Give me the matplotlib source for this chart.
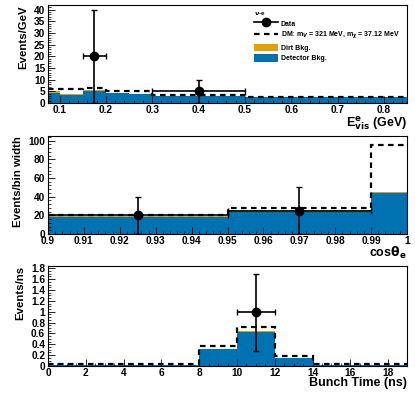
import numpy as np
import matplotlib
matplotlib.use("Agg")
import matplotlib.pyplot as plt
from matplotlib.ticker import MultipleLocator, FuncFormatter
from matplotlib.lines import Line2D
from matplotlib.patches import Patch

# ---- data ----
# visible energy panel
e_edges = [0.075, 0.1, 0.15, 0.2, 0.25, 0.3, 0.5, 0.85]
e_det = [4.4, 3.5, 5.2, 4.3, 3.7, 3.0, 2.5]
e_dirt = [0.7, 0.6, 0.4, 0.15, 0.1, 0.05, 0.05]
e_dm_total = [5.9, 5.9, 6.3, 5.0, 5.0, 3.5, 2.8]
e_data_x = [0.175, 0.4]
e_data_xerr = [0.025, 0.1]
e_data_y = [20, 5]
e_data_ylo = [20, 5]
e_data_yhi = [20, 5]

# angle panel
c_edges = [0.9, 0.95, 0.99, 1.0]
c_det = [18, 24, 43.7]
c_dirt = [1.8, 1.4, 0.8]
c_dm_total = [20.3, 27.6, 95.7]
c_data_x = [0.925, 0.97]
c_data_xerr = [0.025, 0.02]
c_data_y = [20, 25]
c_data_ylo = [20, 25]
c_data_yhi = [20, 25]

# bunch time panel
t_edges = [0, 8, 10, 12, 14, 19]
t_det = [0.01, 0.31, 0.635, 0.145, 0.01]
t_dirt = [0.003, 0.012, 0.012, 0.01, 0.003]
t_dm_total = [0.045, 0.365, 0.72, 0.185, 0.04]
t_data_x = [11]
t_data_xerr = [1]
t_data_y = [1.0]
t_data_ylo = [0.72]
t_data_yhi = [0.7]

blue = "#0072b2"
orange = "#e69f00"

plt.rcParams["font.family"] = ["Liberation Sans", "DejaVu Sans"]
plt.rcParams["font.weight"] = "bold"
plt.rcParams["axes.labelweight"] = "bold"

fig = plt.figure(figsize=(4.15, 3.95), dpi=100)


def gfmt(v, pos):
    return "%g" % round(v, 6)


def draw_panel(ax, edges, det, dirt, total, dx, dxerr, dy, dylo, dyhi):
    det = np.array(det)
    dirt = np.array(dirt)
    ax.stairs(det, edges, baseline=0, fill=True, color=blue, lw=0)
    ax.stairs(det + dirt, edges, baseline=det, fill=True, color=orange, lw=0)
    ax.stairs(total, edges, baseline=None, color="black", lw=1.6,
              linestyle=(0, (2.5, 2.0)))
    ax.errorbar(dx, dy, xerr=dxerr, yerr=[dylo, dyhi], fmt="o", color="black",
                ms=6, elinewidth=1.2, capsize=2, capthick=1.0)
    ax.tick_params(which="both", direction="in", labelsize=7.3)
    ax.tick_params(axis="x", pad=1.5)
    ax.tick_params(axis="y", pad=2)
    ax.tick_params(which="major", length=5, width=0.6)
    ax.tick_params(which="minor", length=2.5, width=0.5)
    ax.xaxis.set_major_formatter(FuncFormatter(gfmt))
    ax.yaxis.set_major_formatter(FuncFormatter(gfmt))
    for s in ax.spines.values():
        s.set_linewidth(0.8)


# top panel
ax1 = fig.add_axes([0.1157, 0.739, 0.865, 0.248])
draw_panel(ax1, e_edges, e_det, e_dirt, e_dm_total, e_data_x, e_data_xerr,
           e_data_y, e_data_ylo, e_data_yhi)
ax1.set_xlim(0.075, 0.85)
ax1.set_ylim(0, 42)
ax1.xaxis.set_major_locator(MultipleLocator(0.1))
ax1.xaxis.set_minor_locator(MultipleLocator(0.02))
ax1.yaxis.set_major_locator(MultipleLocator(5))
ax1.yaxis.set_minor_locator(MultipleLocator(1))
ax1.set_ylabel("Events/GeV", fontsize=8.2, loc="top", labelpad=4)
ax1.set_xlabel(r"E$^{\mathbf{e}}_{\mathbf{vis}}$ (GeV)", fontsize=9, loc="right", labelpad=-0.5)

handles = [
    Line2D([], [], color="black", marker="o", ms=6, lw=1.2),
    Line2D([], [], color="black", lw=1.6, linestyle=(0, (2.5, 2.0))),
    Patch(facecolor=orange, edgecolor="none"),
    Patch(facecolor=blue, edgecolor="none"),
]
labels = ["Data", r"DM: m$_V$ = 321 MeV, m$_\chi$ = 37.12 MeV",
          "Dirt Bkg.", "Detector Bkg."]
leg = ax1.legend(handles, labels, title=r"$\nu$-e", loc="upper left",
                 bbox_to_anchor=(0.56, 1.0), frameon=False, fontsize=5.0,
                 title_fontsize=4.5, handlelength=3.4, handleheight=1.3,
                 labelspacing=0.35, handletextpad=0.5, borderaxespad=0.3)
leg._legend_box.align = "left"

# middle panel
ax2 = fig.add_axes([0.1157, 0.4076, 0.865, 0.248])
draw_panel(ax2, c_edges, c_det, c_dirt, c_dm_total, c_data_x, c_data_xerr,
           c_data_y, c_data_ylo, c_data_yhi)
ax2.set_xlim(0.9, 1.0)
ax2.set_ylim(0, 105)
ax2.xaxis.set_major_locator(MultipleLocator(0.01))
ax2.xaxis.set_minor_locator(MultipleLocator(0.002))
ax2.yaxis.set_major_locator(MultipleLocator(20))
ax2.yaxis.set_minor_locator(MultipleLocator(4))
ax2.set_ylabel("Events/bin width", fontsize=8.2, loc="top", labelpad=4)
ax2.set_xlabel(r"cos$\mathbf{\theta_e}$", fontsize=9, loc="right", labelpad=-0.5)

# bottom panel
ax3 = fig.add_axes([0.1157, 0.0734, 0.865, 0.253])
draw_panel(ax3, t_edges, t_det, t_dirt, t_dm_total, t_data_x, t_data_xerr,
           t_data_y, t_data_ylo, t_data_yhi)
ax3.set_xlim(0, 19)
ax3.set_ylim(0, 1.84)
ax3.xaxis.set_major_locator(MultipleLocator(2))
ax3.xaxis.set_minor_locator(MultipleLocator(0.5))
ax3.yaxis.set_major_locator(MultipleLocator(0.2))
ax3.yaxis.set_minor_locator(MultipleLocator(0.05))
ax3.set_ylabel("Events/ns", fontsize=8.2, loc="top", labelpad=4)
ax3.set_xlabel("Bunch Time (ns)", fontsize=9, loc="right", labelpad=-0.5)

fig.savefig("out.png", dpi=100)
